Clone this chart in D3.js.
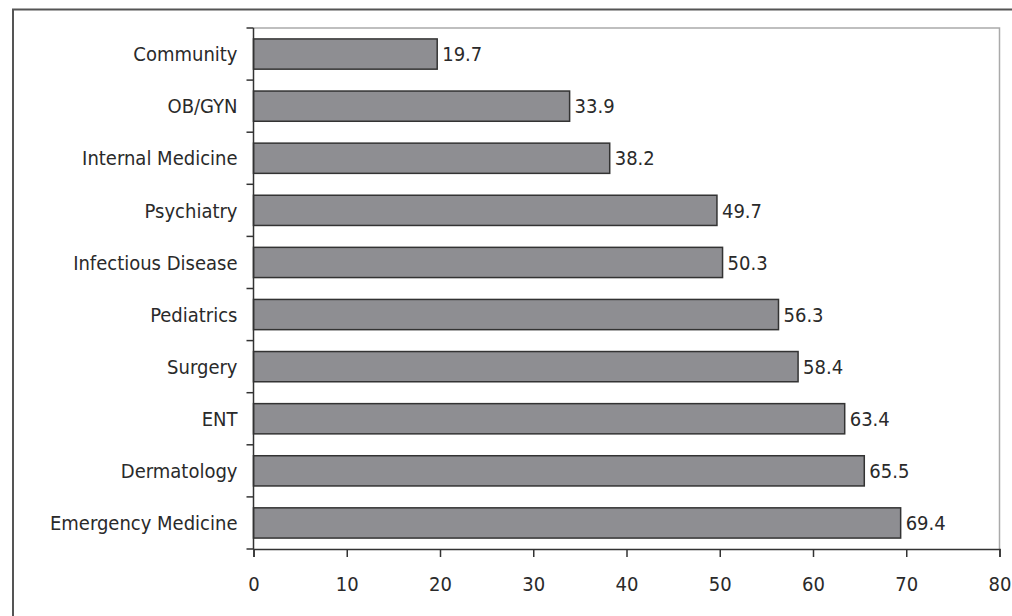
<!DOCTYPE html>
<html>
<head>
<meta charset="utf-8">
<script src="https://cdn.jsdelivr.net/npm/d3@7"></script>
<style>
  body { margin: 0; background: #fff; }
  text { font-family: "DejaVu Sans Condensed", "DejaVu Sans", sans-serif; font-stretch: condensed; fill: #2a2a2a; }
</style>
</head>
<body>
<script>
var categories = ['Community', 'OB/GYN', 'Internal Medicine', 'Psychiatry', 'Infectious Disease',
                  'Pediatrics', 'Surgery', 'ENT', 'Dermatology', 'Emergency Medicine'];
var values = [19.7, 33.9, 38.2, 49.7, 50.3, 56.3, 58.4, 63.4, 65.5, 69.4];
var xTicks = [0, 10, 20, 30, 40, 50, 60, 70, 80];

var width = 1012, height = 616;
var mLeft = 253.5, mRight = 999.5, mTop = 28, mBottom = 549;
var fontSize = 20;

var svg = d3.select('body').append('svg').attr('width', width).attr('height', height);

// outer frame
svg.append('path')
   .attr('d', 'M13,' + height + 'V9.5H' + width)
   .attr('fill', 'none').attr('stroke', '#555').attr('stroke-width', 2);

// plot area border (light)
svg.append('path')
   .attr('d', 'M' + mLeft + ',' + mTop + 'H' + mRight + 'V' + mBottom)
   .attr('fill', 'none').attr('stroke', '#aaa').attr('stroke-width', 1.5);

var x = d3.scaleLinear().domain([0, 80]).range([mLeft, mRight]);
var y = d3.scaleBand().domain(categories).range([mTop, mBottom]).paddingInner(0.42).paddingOuter(0.21);

svg.selectAll('rect.bar')
   .data(values)
   .enter()
   .append('rect')
   .attr('class', 'bar')
   .attr('x', x(0))
   .attr('y', function (d, i) { return y(categories[i]); })
   .attr('width', function (d) { return x(d) - x(0); })
   .attr('height', y.bandwidth())
   .attr('fill', '#8e8e92')
   .attr('stroke', '#333')
   .attr('stroke-width', 1.5);

svg.selectAll('text.val')
   .data(values)
   .enter()
   .append('text')
   .attr('class', 'val')
   .attr('x', function (d) { return x(d) + 5; })
   .attr('y', function (d, i) { return y(categories[i]) + y.bandwidth() / 2; })
   .attr('dy', '0.36em')
   .attr('font-size', fontSize)
   .text(function (d) { return d.toFixed(1); });

// x axis
var xAxis = svg.append('g')
   .attr('transform', 'translate(0,' + mBottom + ')')
   .call(d3.axisBottom(x).tickValues(xTicks).tickSize(8).tickPadding(20));
xAxis.select('.domain').attr('stroke', '#333').attr('stroke-width', 1.5);
xAxis.selectAll('.tick line').attr('stroke', '#333').attr('stroke-width', 1.5);
xAxis.selectAll('text').attr('font-size', fontSize).attr('fill', '#2a2a2a').attr('font-family', null);

// y axis: ticks at band boundaries
var yAxis = svg.append('g').attr('transform', 'translate(' + mLeft + ',0)');
yAxis.append('line').attr('y1', mTop).attr('y2', mBottom).attr('stroke', '#333').attr('stroke-width', 1.5);
yAxis.selectAll('line.tk')
   .data(d3.range(categories.length + 1))
   .enter()
   .append('line')
   .attr('class', 'tk')
   .attr('x1', -7).attr('x2', 0)
   .attr('y1', function (i) { return mTop + (mBottom - mTop) * i / categories.length; })
   .attr('y2', function (i) { return mTop + (mBottom - mTop) * i / categories.length; })
   .attr('stroke', '#333').attr('stroke-width', 1.5);
yAxis.selectAll('text')
   .data(categories)
   .enter()
   .append('text')
   .attr('x', -16)
   .attr('y', function (d) { return y(d) + y.bandwidth() / 2; })
   .attr('dy', '0.36em')
   .attr('text-anchor', 'end')
   .attr('font-size', fontSize)
   .text(function (d) { return d; });
</script>
</body>
</html>
